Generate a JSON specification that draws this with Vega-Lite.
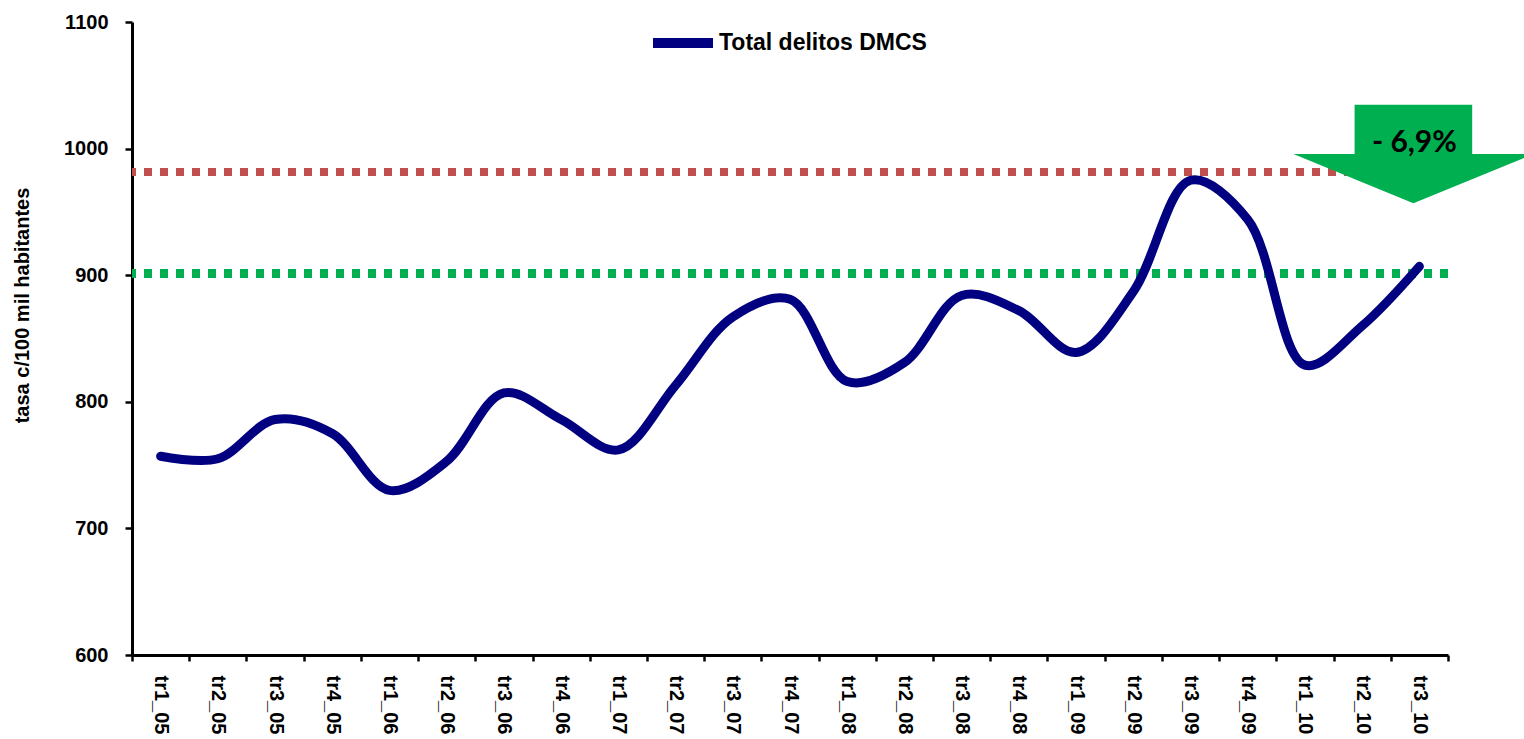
{
  "$schema": "https://vega.github.io/schema/vega-lite/v6.json",
  "autosize": {"type": "none"},
  "width": 1316,
  "height": 633,
  "padding": {"left": 132, "top": 22, "right": 76, "bottom": 84},
  "background": "white",
  "config": {
    "view": {"stroke": null},
    "font": "Liberation Sans",
    "axis": {
      "grid": false,
      "domainColor": "black",
      "domainWidth": 3,
      "tickColor": "black",
      "tickWidth": 2.5,
      "labelFont": "Liberation Sans",
      "labelFontWeight": "bold",
      "labelColor": "black",
      "titleFont": "Liberation Sans",
      "titleFontWeight": "bold",
      "titleColor": "black"
    },
    "legend": {
      "orient": "none",
      "legendX": 516,
      "legendY": -14,
      "padding": 0,
      "symbolType": "stroke",
      "symbolSize": 3600,
      "symbolStrokeWidth": 10,
      "labelFont": "Liberation Sans",
      "labelFontWeight": "bold",
      "labelFontSize": 23,
      "labelColor": "black",
      "labelOffset": 1,
      "labelLimit": 600
    }
  },
  "data": {
    "values": [
      {"periodo": "tr1_05", "tasa": 757},
      {"periodo": "tr2_05", "tasa": 755},
      {"periodo": "tr3_05", "tasa": 786},
      {"periodo": "tr4_05", "tasa": 775},
      {"periodo": "tr1_06", "tasa": 730},
      {"periodo": "tr2_06", "tasa": 753},
      {"periodo": "tr3_06", "tasa": 807},
      {"periodo": "tr4_06", "tasa": 786},
      {"periodo": "tr1_07", "tasa": 762},
      {"periodo": "tr2_07", "tasa": 813},
      {"periodo": "tr3_07", "tasa": 867},
      {"periodo": "tr4_07", "tasa": 881},
      {"periodo": "tr1_08", "tasa": 816},
      {"periodo": "tr2_08", "tasa": 831},
      {"periodo": "tr3_08", "tasa": 884},
      {"periodo": "tr4_08", "tasa": 872},
      {"periodo": "tr1_09", "tasa": 839},
      {"periodo": "tr2_09", "tasa": 887},
      {"periodo": "tr3_09", "tasa": 975},
      {"periodo": "tr4_09", "tasa": 944},
      {"periodo": "tr1_10", "tasa": 829},
      {"periodo": "tr2_10", "tasa": 860},
      {"periodo": "tr3_10", "tasa": 907}
    ]
  },
  "encoding": {
    "x": {
      "field": "periodo",
      "type": "nominal",
      "sort": null,
      "title": null,
      "scale": {"paddingInner": 0, "paddingOuter": 0},
      "axis": {
        "labelAngle": 90,
        "labelFontSize": 20,
        "tickBand": "extent",
        "tickSize": 6,
        "labelPadding": 14
      }
    }
  },
  "layer": [
    {
      "mark": {"type": "rule", "color": "#C0504D", "strokeWidth": 8, "strokeDash": [8, 8]},
      "encoding": {"x": null, "y": {"datum": 981.5, "type": "quantitative"}}
    },
    {
      "mark": {"type": "rule", "color": "#00B050", "strokeWidth": 8, "strokeDash": [8, 8]},
      "encoding": {"x": null, "y": {"datum": 901.5, "type": "quantitative"}}
    },
    {
      "mark": {"type": "line", "interpolate": "catmull-rom", "strokeWidth": 9, "strokeCap": "round", "strokeJoin": "round"},
      "encoding": {
        "y": {
          "field": "tasa",
          "type": "quantitative",
          "scale": {"domain": [600, 1100], "nice": false, "zero": false},
          "title": "tasa c/100 mil habitantes",
          "axis": {
            "values": [600, 700, 800, 900, 1000, 1100],
            "format": "d",
            "labelFontSize": 20,
            "tickSize": 7,
            "labelPadding": 17,
            "titleFontSize": 20,
            "titleX": -100,
            "titleY": 283
          }
        },
        "color": {
          "datum": "Total delitos DMCS",
          "type": "nominal",
          "scale": {"range": ["#000080"]},
          "legend": {"title": null}
        }
      }
    },
    {
      "transform": [{"filter": "datum.periodo == 'tr3_10'"}],
      "mark": {
        "type": "point",
        "shape": "M-0.49,-0.41 L0.49,-0.41 L0.49,0 L1,0 L0,0.41 L-1,0 L-0.49,0 Z",
        "size": 57600,
        "filled": true,
        "color": "#00B050",
        "opacity": 1,
        "strokeWidth": 0,
        "xOffset": -6
      },
      "encoding": {"y": {"datum": 995.7, "type": "quantitative"}}
    },
    {
      "transform": [{"filter": "datum.periodo == 'tr3_10'"}],
      "mark": {
        "type": "text",
        "font": "Lato",
        "fontWeight": "bold",
        "fontSize": 30,
        "color": "black",
        "align": "center",
        "baseline": "middle",
        "xOffset": -5
      },
      "encoding": {
        "y": {"datum": 1004.4, "type": "quantitative"},
        "text": {"value": "- 6,9%"}
      }
    }
  ]
}
